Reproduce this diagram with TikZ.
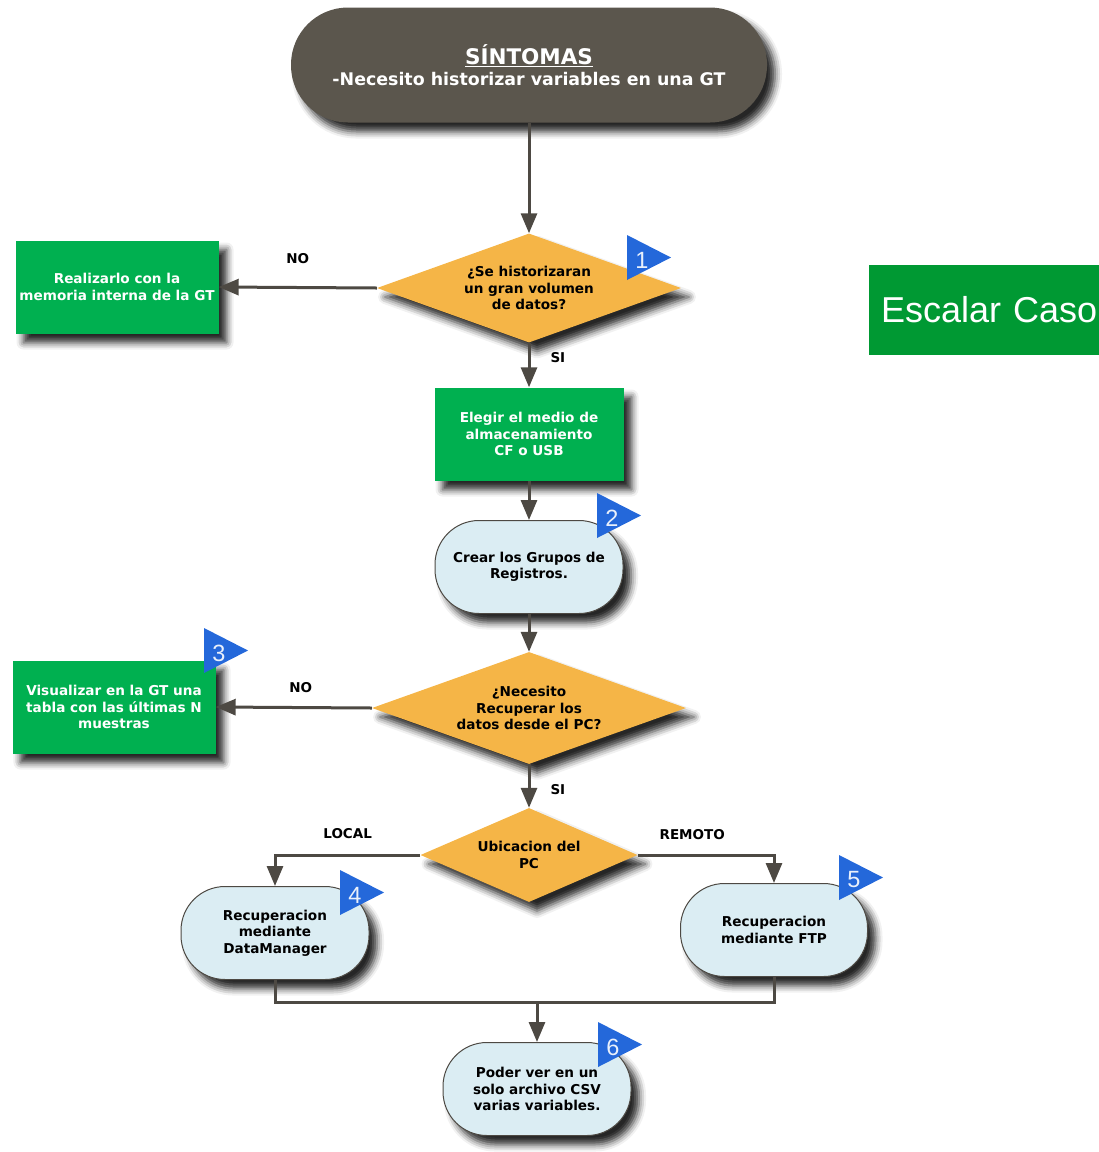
\documentclass[tikz,border=0pt]{standalone}
\usepackage{fontspec}
\setmainfont{DejaVu Sans}
\newfontfamily\arialfont{Liberation Sans}
\usetikzlibrary{shapes.geometric,arrows.meta,shadows.blur}
\definecolor{cdark}{RGB}{91,86,77}
\definecolor{corange}{RGB}{245,181,71}
\definecolor{cgreen}{RGB}{0,176,80}
\definecolor{cesc}{RGB}{0,153,51}
\definecolor{clight}{RGB}{219,237,243}
\definecolor{cblue}{RGB}{36,104,218}
\definecolor{cline}{RGB}{77,73,67}
\begin{document}
\begin{tikzpicture}[x=1pt,y=-1pt,
  base/.style={font=\bfseries\fontsize{13.6}{16.5}\selectfont, align=center, inner sep=0pt},
  shad/.style={blur shadow={shadow xshift=8pt, shadow yshift=-9pt, shadow blur radius=7pt, shadow opacity=85}},
  terminal/.style={base, shad, rectangle, rounded corners=57pt, fill=cdark, text=white,
     minimum width=476pt, minimum height=115pt},
  greenbox/.style={base, shad, rectangle, fill=cgreen, text=white, minimum width=203pt, minimum height=93pt},
  decision/.style={base, shad, diamond, fill=corange, text=black},
  stadium/.style={base, shad, rectangle, rounded corners=44pt, fill=clight, draw=cline, line width=1pt,
     minimum width=188pt, minimum height=93pt},
  conn/.style={draw=cline, line width=3pt, -{Triangle[width=16pt,length=20pt]}},
  plain/.style={draw=cline, line width=3pt},
  lab/.style={font=\bfseries\fontsize{13.5}{16}\selectfont, text=black, inner sep=0pt},
  badge/.pic={\fill[cblue] (0,0) -- (44,22.5) -- (0,45) -- cycle;
              \node[font=\arialfont\fontsize{23.5}{23.5}\selectfont, text=white!90!cblue, inner sep=0pt] (-n) at (15,25) {#1};}
]
\useasboundingbox (0,0) rectangle (1099,1152);

\node[terminal] (sint) at (529,65)
  {{\fontsize{21.5}{26}\selectfont\underline{SÍNTOMAS}}\\[5pt]{\fontsize{17.4}{20}\selectfont -Necesito historizar variables en una GT}};

\node[decision, aspect=2.79, minimum width=304pt, minimum height=109pt] (d1) at (529,288)
  {¿Se historizaran\\un gran volumen\\de datos?};
\node[greenbox] (b1) at (117,287) {Realizarlo con la\\memoria interna de la GT};
\node[greenbox, minimum width=189pt] (b2) at (529,434) {Elegir el medio de\\almacenamiento\\CF o USB};
\node[stadium] (s2) at (529,567) {Crear los Grupos de\\Registros.};
\node[decision, aspect=2.8, minimum width=314pt, minimum height=112pt] (d2) at (529,708)
  {¿Necesito\\Recuperar los\\datos desde el PC?};
\node[greenbox] (b3) at (114,707) {Visualizar en la GT una\\tabla con las últimas N\\muestras};
\node[decision, aspect=2.31, minimum width=217pt, minimum height=94pt] (d3) at (529,855) {Ubicacion del\\PC};
\node[stadium] (s4) at (275,933) {Recuperacion\\mediante\\DataManager};
\node[stadium, minimum width=187pt] (s5) at (774,930) {Recuperacion\\mediante FTP};
\node[stadium] (s6) at (537,1089) {Poder ver en un\\solo archivo CSV\\varias variables.};

\node[rectangle, anchor=west, fill=cesc, text=white, minimum height=90pt, inner xsep=12pt,
      text width=230pt, align=left, font=\arialfont\fontsize{36}{40}\selectfont] (esc) at (869,310) {Escalar Caso};

\coordinate (j) at (537,1002);

\draw[conn] (sint.south) -- (d1.north);
\draw[conn] (d1.west) -- (b1.east) node[lab, midway, above=22pt] (lno1) {NO};
\draw[conn] (d1.south) -- (b2.north) node[lab, midway, right=20pt, yshift=7pt] (lsi1) {SI};
\draw[conn] (b2.south) -- (s2.north);
\draw[conn] (s2.south) -- (d2.north);
\draw[conn] (d2.west) -- (b3.east) node[lab, midway, above=13pt, xshift=7pt] (lno2) {NO};
\draw[conn] (d2.south) -- (d3.north) node[lab, midway, right=20pt, yshift=-4pt] (lsi2) {SI};
\draw[conn] (d3.west) -| (s4.north) node[lab, pos=0.25, above=15pt] (lloc) {LOCAL};
\draw[conn] (d3.east) -| (s5.north) node[lab, pos=0.2, above=14pt] (lrem) {REMOTO};
\draw[plain] (s4.south) |- (j);
\draw[plain] (s5.south) |- (j);
\draw[conn] (j) -- (s6.north);

\pic at (627,235) {badge=1};
\pic at (597,493) {badge=2};
\pic at (204,628) {badge=3};
\pic at (340,870) {badge=4};
\pic at (839,855) {badge=5};
\pic at (598,1022) {badge=6};
\end{tikzpicture}
\end{document}
